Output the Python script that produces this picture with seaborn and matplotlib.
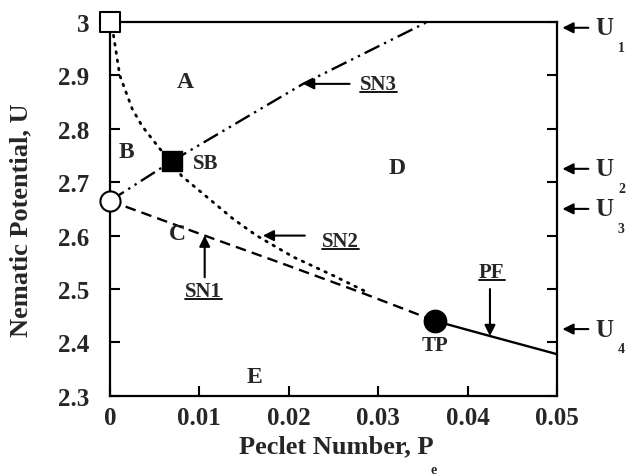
import numpy as np
import pandas as pd
import matplotlib
matplotlib.use('Agg')
import matplotlib.pyplot as plt
from matplotlib.lines import Line2D
import seaborn as sns

# phase boundaries (Peclet number, nematic potential)
sn1_pe = [0.0, 0.0106, 0.0194, 0.028, 0.0364]
sn1_u = [2.665, 2.600, 2.547, 2.494, 2.440]

sn2_pe = [0.0004, 0.0011, 0.0025, 0.0036, 0.0056, 0.0070, 0.0080, 0.0138, 0.0164, 0.0205, 0.0250, 0.0290]
sn2_u = [2.975, 2.900, 2.837, 2.805, 2.762, 2.740, 2.712, 2.631, 2.600, 2.560, 2.525, 2.492]

sn3_pe = [0.0, 0.0070, 0.0216, 0.0355]
sn3_u = [2.665, 2.740, 2.884, 3.000]

pf_pe = [0.0364, 0.0425, 0.050]
pf_u = [2.440, 2.412, 2.378]

# special points
open_sq = (0.0, 3.0)
open_circ = (0.0, 2.665)
sb_pt = (0.0070, 2.740)
tp_pt = (0.0364, 2.440)

xticks = [0, 0.01, 0.02, 0.03, 0.04, 0.05]
xtick_labels = ['0', '0.01', '0.02', '0.03', '0.04', '0.05']
yticks = [2.3, 2.4, 2.5, 2.6, 2.7, 2.8, 2.9, 3.0]
ytick_labels = ['2.3', '2.4', '2.5', '2.6', '2.7', '2.8', '2.9', '3']

# U levels marked on the right
u_levels = [2.989, 2.725, 2.650, 2.425]

sns.set_theme(style='ticks')
plt.rcParams['font.family'] = ['Liberation Serif', 'DejaVu Serif']
plt.rcParams['font.weight'] = 'bold'

fig = plt.figure(figsize=(6.28, 4.77), dpi=100)
ax = fig.add_axes([0.175, 0.168, 0.712, 0.784])

lw = 1.7
sns.lineplot(x=sn1_pe, y=sn1_u, ax=ax, sort=False, estimator=None, color='black',
             lw=lw, linestyle=(0, (4.5, 2.6)))
sns.lineplot(x=sn2_pe, y=sn2_u, ax=ax, sort=False, estimator=None, color='black',
             lw=2.0, linestyle=(0, (0.6, 2.4)), dash_capstyle='round')
sns.lineplot(x=sn3_pe, y=sn3_u, ax=ax, sort=False, estimator=None, color='black',
             lw=lw, linestyle=(0, (7, 2.2, 1, 2.2, 1, 2.2)))
sns.lineplot(x=pf_pe, y=pf_u, ax=ax, sort=False, estimator=None, color='black', lw=lw)

pts = pd.DataFrame({'pe': [open_sq[0], open_circ[0], sb_pt[0], tp_pt[0]],
                    'u': [open_sq[1], open_circ[1], sb_pt[1], tp_pt[1]]})
sns.scatterplot(x=pts.pe[:1], y=pts.u[:1], ax=ax, marker='s', s=200, color='white',
                edgecolor='black', linewidth=1.5, clip_on=False, zorder=5)
sns.scatterplot(x=pts.pe[1:2], y=pts.u[1:2], ax=ax, marker='o', s=210, color='white',
                edgecolor='black', linewidth=1.5, clip_on=False, zorder=5)
sns.scatterplot(x=pts.pe[2:3], y=pts.u[2:3], ax=ax, marker='s', s=200, color='black',
                edgecolor='black', linewidth=1, clip_on=False, zorder=5)
sns.scatterplot(x=pts.pe[3:4], y=pts.u[3:4], ax=ax, marker='o', s=260, color='black',
                edgecolor='black', linewidth=1, clip_on=False, zorder=5)

ax.set_xlim(0, 0.05)
ax.set_ylim(2.3, 3.0)
ax.set_xticks(xticks)
ax.set_xticklabels(xtick_labels)
ax.set_yticks(yticks)
ax.set_yticklabels(ytick_labels)
ax.tick_params(axis='both', direction='in', length=7, width=1.5, labelsize=18, color='black')
ax.tick_params(axis='y', right=True, pad=15)
ax.tick_params(axis='x', pad=7)
for sp in ax.spines.values():
    sp.set_linewidth(1.6)
    sp.set_color('black')
ax.set_xlabel('')
ax.set_ylabel('')

fig.text(336/628, 1 - 447/477, 'Peclet Number, P', ha='center', va='center', fontsize=19)
fig.text(434/628, 1 - 471/477, 'e', ha='center', va='center', fontsize=10)
fig.text(21/628, 1 - 220/477, 'Nematic Potential, U', ha='center', va='center',
         fontsize=19, rotation=90)

# region letters
for lab, px, pu in [('A', 0.0084, 2.888), ('B', 0.0019, 2.758), ('C', 0.0076, 2.603),
                    ('D', 0.0321, 2.728), ('E', 0.0162, 2.337)]:
    ax.text(px, pu, lab, ha='center', va='center', fontsize=17)
ax.text(0.0107, 2.736, 'SB', ha='center', va='center', fontsize=15)
ax.text(0.0364, 2.395, 'TP', ha='center', va='center', fontsize=15)

arw = dict(arrowstyle='-|>', color='black', lw=1.5, mutation_scale=16, shrinkA=0, shrinkB=0)
underlined = []
underlined.append(ax.text(0.0105, 2.497, 'SN1', ha='center', va='center', fontsize=15))
ax.annotate('', xy=(0.0106, 2.600), xytext=(0.0106, 2.522), arrowprops=arw)
underlined.append(ax.text(0.0258, 2.590, 'SN2', ha='center', va='center', fontsize=15))
ax.annotate('', xy=(0.0171, 2.600), xytext=(0.0218, 2.600), arrowprops=arw)
underlined.append(ax.text(0.0300, 2.884, 'SN3', ha='center', va='center', fontsize=15))
ax.annotate('', xy=(0.0216, 2.884), xytext=(0.0268, 2.884), arrowprops=arw)
underlined.append(ax.text(0.0427, 2.532, 'PF', ha='center', va='center', fontsize=15))
ax.annotate('', xy=(0.0425, 2.412), xytext=(0.0425, 2.500), arrowprops=arw)

for i, uv in enumerate(u_levels):
    ax.annotate('', xy=(0.0506, uv), xytext=(0.0535, uv), arrowprops=arw,
                annotation_clip=False)
    ax.text(0.0553, uv, 'U', ha='center', va='center', fontsize=18, clip_on=False)
    ax.text(0.0572, uv - 0.036, str(i + 1), ha='center', va='center', fontsize=10,
            clip_on=False)

# underline the curve names
fig.canvas.draw()
r = fig.canvas.get_renderer()
for t in underlined:
    bb = t.get_window_extent(r)
    y0 = bb.y0 + 2
    fig.add_artist(Line2D([bb.x0 / fig.bbox.width, bb.x1 / fig.bbox.width],
                          [y0 / fig.bbox.height, y0 / fig.bbox.height],
                          color='black', lw=1.3))

fig.savefig('out.png', dpi=100)
